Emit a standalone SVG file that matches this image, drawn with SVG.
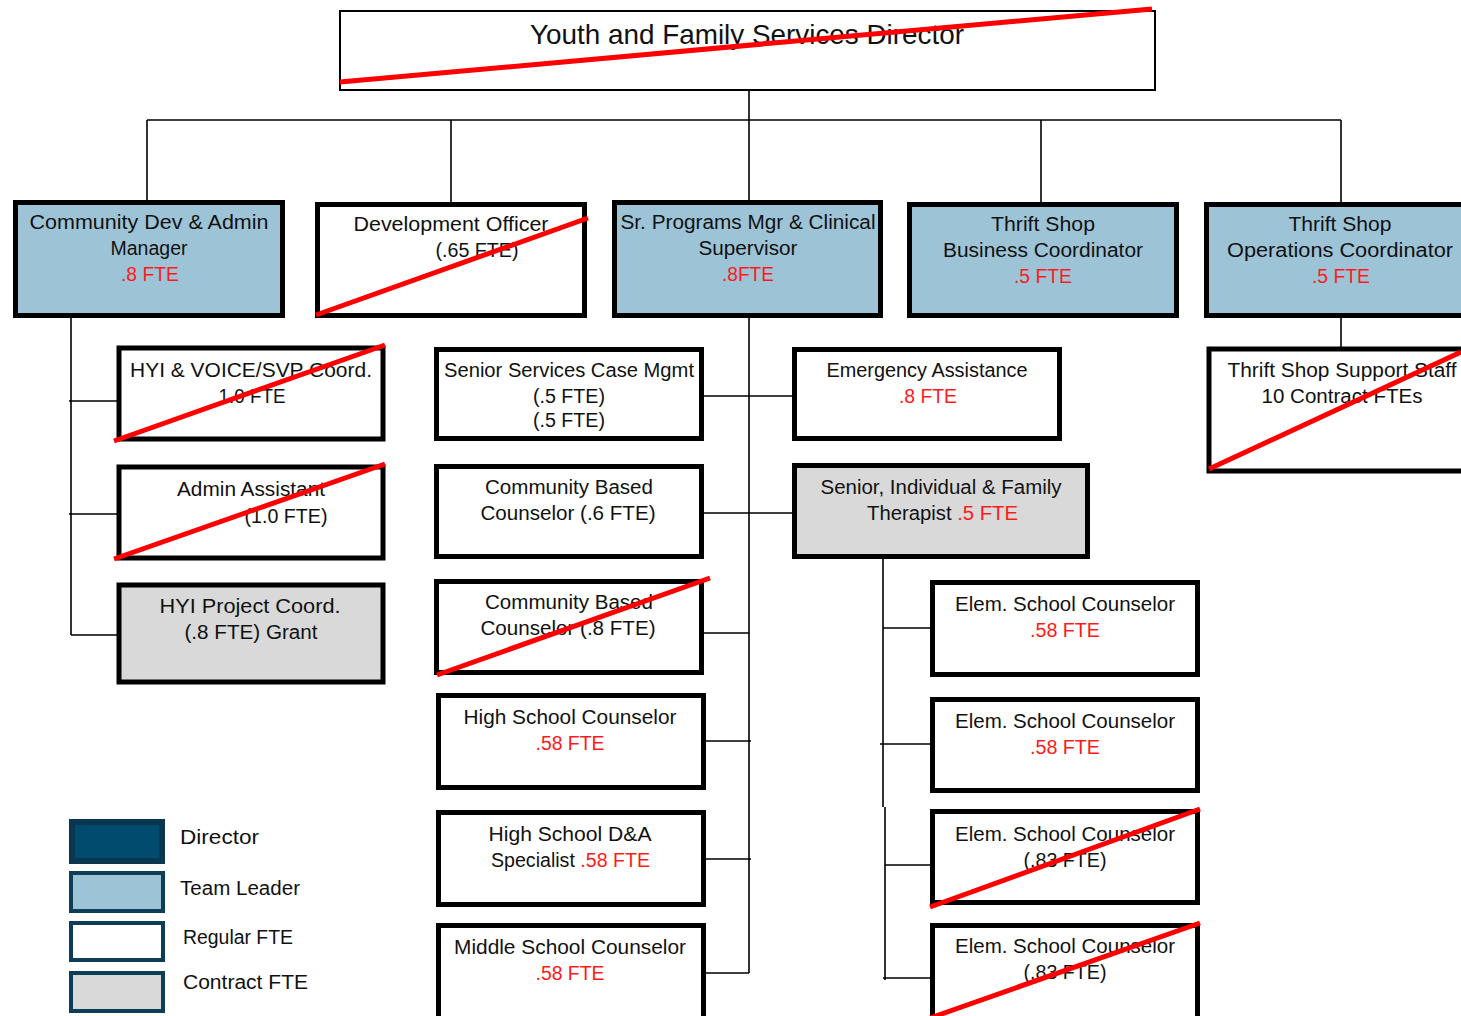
<svg xmlns="http://www.w3.org/2000/svg" width="1461" height="1016" viewBox="0 0 1461 1016">
<style>
text{font-family:"Liberation Sans",Arial,sans-serif;font-size:20px;fill:#111;text-anchor:middle}
.t{font-size:28px}
.r{fill:#ff1a1a}
.l{text-anchor:start}
.box{stroke:#000;stroke-width:5;fill:#fff}
.lead{fill:#9dc3d7}
.con{fill:#d9d9d9}
.x{stroke:#ff0000;stroke-width:5;fill:none}
.c{stroke:#000;stroke-width:1.6;fill:none}
.lg{stroke:#0d3d57;stroke-width:4}
</style>
<rect width="1461" height="1016" fill="#fff"/>
<g id="connectors">
<path class="c" d="M749 88V120M147 120H1341M147 120V200M451 120V202M749 120V200M1041 120V202M1341 120V202"/>
<path class="c" d="M71 318V635M69 401H117M69 514H117M71 635H117"/>
<path class="c" d="M749 318V973M703 396H793M703 513H793M703 633H749M705 741H751M705 859H751M705 973H749"/>
<path class="c" d="M883 558V807M885 807V980M883 628H931M880 744H931M885 865H931M883 978H931"/>
<path class="c" d="M1341 318V348"/>
</g>
<g id="director">
<rect x="340" y="11" width="815" height="79" fill="#fff" stroke="#000" stroke-width="2"/>
<text class="t" x="747" y="44" textLength="434" lengthAdjust="spacingAndGlyphs">Youth and Family Services Director</text>
<line class="x" x1="340" y1="82" x2="1152" y2="9"/>
</g>
<g id="community-dev">
<rect class="box lead" x="15.5" y="202.5" width="267" height="113"/>
<text x="149" y="229" textLength="239" lengthAdjust="spacingAndGlyphs">Community Dev &amp; Admin</text>
<text x="149" y="255" textLength="77" lengthAdjust="spacingAndGlyphs">Manager</text>
<text class="r" x="150" y="281" textLength="58" lengthAdjust="spacingAndGlyphs">.8 FTE</text>
</g>
<g id="development-officer">
<rect class="box" x="317.5" y="204.5" width="267" height="111"/>
<text x="451" y="231" textLength="195" lengthAdjust="spacingAndGlyphs">Development Officer</text>
<text x="477" y="257" textLength="83" lengthAdjust="spacingAndGlyphs">(.65 FTE)</text>
<line class="x" x1="316" y1="315" x2="588" y2="218"/>
</g>
<g id="sr-programs">
<rect class="box lead" x="614.5" y="202.5" width="266" height="113"/>
<text x="748" y="229" textLength="255" lengthAdjust="spacingAndGlyphs">Sr. Programs Mgr &amp; Clinical</text>
<text x="748" y="255" textLength="99" lengthAdjust="spacingAndGlyphs">Supervisor</text>
<text class="r" x="748" y="281" textLength="52" lengthAdjust="spacingAndGlyphs">.8FTE</text>
</g>
<g id="thrift-business">
<rect class="box lead" x="909.5" y="204.5" width="267" height="111"/>
<text x="1043" y="231" textLength="104" lengthAdjust="spacingAndGlyphs">Thrift Shop</text>
<text x="1043" y="257" textLength="200" lengthAdjust="spacingAndGlyphs">Business Coordinator</text>
<text class="r" x="1043" y="283" textLength="58" lengthAdjust="spacingAndGlyphs">.5 FTE</text>
</g>
<g id="thrift-operations">
<rect class="box lead" x="1206.5" y="204.5" width="280" height="111"/>
<text x="1340" y="231" textLength="103" lengthAdjust="spacingAndGlyphs">Thrift Shop</text>
<text x="1340" y="257" textLength="226" lengthAdjust="spacingAndGlyphs">Operations Coordinator</text>
<text class="r" x="1341" y="283" textLength="58" lengthAdjust="spacingAndGlyphs">.5 FTE</text>
</g>
<g id="hyi-voice">
<rect class="box" x="119" y="348" width="264" height="91" stroke-width="4"/>
<text x="251" y="377" textLength="242" lengthAdjust="spacingAndGlyphs">HYI &amp; VOICE/SVP Coord.</text>
<text x="252" y="403" textLength="67" lengthAdjust="spacingAndGlyphs">1.0 FTE</text>
<line class="x" x1="114" y1="441" x2="385" y2="345"/>
</g>
<g id="admin-assistant">
<rect class="box" x="119" y="467" width="264" height="91" stroke-width="4"/>
<text x="251" y="496" textLength="148" lengthAdjust="spacingAndGlyphs">Admin Assistant</text>
<text x="286" y="523" textLength="83" lengthAdjust="spacingAndGlyphs">(1.0 FTE)</text>
<line class="x" x1="114" y1="559" x2="385" y2="464"/>
</g>
<g id="hyi-project">
<rect class="box con" x="119" y="585" width="264" height="97" stroke-width="4"/>
<text x="250" y="613" textLength="181" lengthAdjust="spacingAndGlyphs">HYI Project Coord.</text>
<text x="251" y="639" textLength="133" lengthAdjust="spacingAndGlyphs">(.8 FTE) Grant</text>
</g>
<g id="senior-services">
<rect class="box" x="436.5" y="349.5" width="265" height="89"/>
<text x="569" y="377" textLength="250" lengthAdjust="spacingAndGlyphs">Senior Services Case Mgmt</text>
<text x="569" y="403" textLength="72" lengthAdjust="spacingAndGlyphs">(.5 FTE)</text>
<text x="569" y="427" textLength="72" lengthAdjust="spacingAndGlyphs">(.5 FTE)</text>
</g>
<g id="emergency-assistance">
<rect class="box" x="794.5" y="349.5" width="265" height="89"/>
<text x="927" y="377" textLength="201" lengthAdjust="spacingAndGlyphs">Emergency Assistance</text>
<text class="r" x="928" y="403" textLength="58" lengthAdjust="spacingAndGlyphs">.8 FTE</text>
</g>
<g id="cbc-06">
<rect class="box" x="436.5" y="466.5" width="265" height="90"/>
<text x="569" y="494" textLength="168" lengthAdjust="spacingAndGlyphs">Community Based</text>
<text x="568" y="520" textLength="175" lengthAdjust="spacingAndGlyphs">Counselor (.6 FTE)</text>
</g>
<g id="therapist">
<rect class="box con" x="794.5" y="465.5" width="293" height="91"/>
<text x="941" y="494" textLength="241" lengthAdjust="spacingAndGlyphs">Senior, Individual &amp; Family</text>
<text class="l" x="867" y="520" textLength="151" lengthAdjust="spacingAndGlyphs">Therapist <tspan class="r">.5 FTE</tspan></text>
</g>
<g id="cbc-08">
<rect class="box" x="436.5" y="581.5" width="265" height="91"/>
<text x="569" y="609" textLength="168" lengthAdjust="spacingAndGlyphs">Community Based</text>
<text x="568" y="635" textLength="175" lengthAdjust="spacingAndGlyphs">Counselor (.8 FTE)</text>
<line class="x" x1="437" y1="675" x2="710" y2="578"/>
</g>
<g id="hs-counselor">
<rect class="box" x="438.5" y="695.5" width="265" height="92"/>
<text x="570" y="724" textLength="213" lengthAdjust="spacingAndGlyphs">High School Counselor</text>
<text class="r" x="570" y="750" textLength="69" lengthAdjust="spacingAndGlyphs">.58 FTE</text>
</g>
<g id="hs-da">
<rect class="box" x="438.5" y="812.5" width="265" height="92"/>
<text x="570" y="841" textLength="163" lengthAdjust="spacingAndGlyphs">High School D&amp;A</text>
<text class="l" x="491" y="867" textLength="159" lengthAdjust="spacingAndGlyphs">Specialist <tspan class="r">.58 FTE</tspan></text>
</g>
<g id="ms-counselor">
<rect class="box" x="438.5" y="925.5" width="265" height="110"/>
<text x="570" y="954" textLength="232" lengthAdjust="spacingAndGlyphs">Middle School Counselor</text>
<text class="r" x="570" y="980" textLength="69" lengthAdjust="spacingAndGlyphs">.58 FTE</text>
</g>
<g id="elem-1">
<rect class="box" x="932.5" y="582.5" width="265" height="92"/>
<text x="1065" y="611" textLength="220" lengthAdjust="spacingAndGlyphs">Elem. School Counselor</text>
<text class="r" x="1065" y="637" textLength="70" lengthAdjust="spacingAndGlyphs">.58 FTE</text>
</g>
<g id="elem-2">
<rect class="box" x="932.5" y="699.5" width="265" height="91"/>
<text x="1065" y="728" textLength="220" lengthAdjust="spacingAndGlyphs">Elem. School Counselor</text>
<text class="r" x="1065" y="754" textLength="70" lengthAdjust="spacingAndGlyphs">.58 FTE</text>
</g>
<g id="elem-3">
<rect class="box" x="932.5" y="811.5" width="265" height="91"/>
<text x="1065" y="841" textLength="220" lengthAdjust="spacingAndGlyphs">Elem. School Counselor</text>
<text x="1065" y="867" textLength="83" lengthAdjust="spacingAndGlyphs">(.83 FTE)</text>
<line class="x" x1="930" y1="907" x2="1200" y2="809"/>
</g>
<g id="elem-4">
<rect class="box" x="932.5" y="925.5" width="265" height="110"/>
<text x="1065" y="953" textLength="220" lengthAdjust="spacingAndGlyphs">Elem. School Counselor</text>
<text x="1065" y="979" textLength="83" lengthAdjust="spacingAndGlyphs">(.83 FTE)</text>
<line class="x" x1="930" y1="1018" x2="1200" y2="923"/>
</g>
<g id="thrift-support">
<rect class="box" x="1209" y="349" width="270" height="122" stroke-width="4"/>
<text x="1342" y="377" textLength="229" lengthAdjust="spacingAndGlyphs">Thrift Shop Support Staff</text>
<text x="1342" y="403" textLength="161" lengthAdjust="spacingAndGlyphs">10 Contract FTEs</text>
<line class="x" x1="1209" y1="469" x2="1461" y2="352"/>
</g>
<g id="legend">
<rect x="72" y="822" width="90" height="39" fill="#004b6e" stroke="#0a3650" stroke-width="6"/>
<rect class="lg" x="71" y="873" width="92" height="38" fill="#9dc3d7"/>
<rect class="lg" x="71" y="923" width="92" height="37" fill="#fff"/>
<rect class="lg" x="71" y="973" width="92" height="38" fill="#d9d9d9"/>
<text class="l" x="180" y="844" textLength="79" lengthAdjust="spacingAndGlyphs">Director</text>
<text class="l" x="180" y="895" textLength="120" lengthAdjust="spacingAndGlyphs">Team Leader</text>
<text class="l" x="183" y="944" textLength="110" lengthAdjust="spacingAndGlyphs">Regular FTE</text>
<text class="l" x="183" y="989" textLength="125" lengthAdjust="spacingAndGlyphs">Contract FTE</text>
</g>
</svg>
